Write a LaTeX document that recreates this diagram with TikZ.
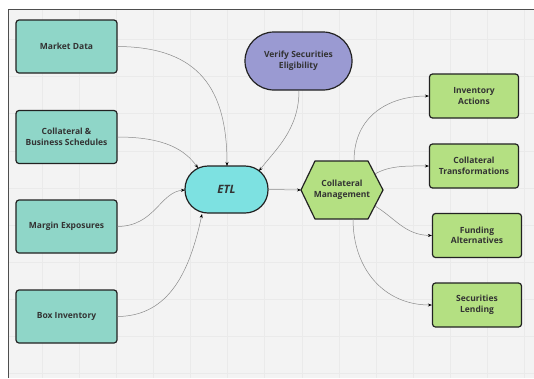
\documentclass[tikz,border=0pt]{standalone}
\usepackage{fontspec}
\setmainfont{Open Sans}
\usetikzlibrary{shapes.geometric,arrows.meta}
\definecolor{bgc}{HTML}{F3F3F3}
\definecolor{gridc}{HTML}{EAEAEA}
\definecolor{tealc}{HTML}{8FD6C8}
\definecolor{greenc}{HTML}{B4E082}
\definecolor{purplec}{HTML}{9A9AD2}
\definecolor{cyanc}{HTML}{7DE1E1}
\definecolor{edgec}{HTML}{222222}
\definecolor{txtc}{HTML}{333333}
\definecolor{linec}{HTML}{8A8A8A}
\tikzset{
  lbl/.style={align=center, font=\bfseries\fontsize{8.5}{10.5}\selectfont, text=txtc},
  box/.style={lbl, draw=edgec, line width=1.2pt, rounded corners=3pt, minimum width=101pt, minimum height=53pt, inner sep=2pt},
  lbox/.style={box, fill=tealc},
  rbox/.style={box, fill=greenc, minimum width=89pt, minimum height=44pt},
  conn/.style={draw=linec, line width=0.5pt, -{Stealth[length=4pt,width=3pt,color=black]}},
}
\begin{document}
\begin{tikzpicture}[x=1pt,y=-1pt]
\useasboundingbox (0,0) rectangle (534,378);
\fill[white] (0,0) rectangle (534,378);
\fill[bgc] (8,9) rectangle (534,378);
\foreach \x in {42,79.1,...,534} \draw[gridc, line width=0.4pt] (\x,9) -- (\x,378);
\foreach \y in {39.4,76.5,...,378} \draw[gridc, line width=0.4pt] (8,\y) -- (534,\y);
\draw[edgec!80, line width=0.8pt] (8,378) -- (8,9) -- (534,9);

\node[lbox] (md) at (66.5,46.5) {Market Data};
\node[lbox] (cb) at (66.5,137) {Collateral \&\\Business Schedules};
\node[lbox] (me) at (66.5,226.5) {Margin Exposures};
\node[lbox] (bi) at (66.5,316.5) {Box Inventory};

\node[lbl, draw=edgec, line width=1.2pt, fill=purplec, rounded corners=29pt, minimum width=107pt, minimum height=58pt] (vs) at (298.5,61) {Verify Securities\\Eligibility};

\node[draw=edgec, line width=1.2pt, fill=cyanc, rounded corners=23pt, minimum width=83pt, minimum height=47pt, font=\bfseries\itshape\fontsize{11.5}{13}\selectfont, text=txtc] (etl) at (226.5,189.5) {ETL};

\draw[edgec, line width=1.2pt, fill=greenc, line join=round] (301,190) -- (315,161) -- (368,161) -- (383,190) -- (368,219) -- (315,219) -- cycle;
\node[lbl] (cm) at (342,190) {Collateral\\Management};
\coordinate (cmL) at (301,190);
\coordinate (cmT) at (354,161);
\coordinate (cmB) at (353,219);
\coordinate (cmUR) at (375,174);
\coordinate (cmLR) at (375,206);

\node[rbox] (ia) at (474,96) {Inventory\\Actions};
\node[rbox] (ct) at (474,166) {Collateral\\Transformations};
\node[rbox] (fa) at (477,235.5) {Funding\\Alternatives};
\node[rbox] (sl) at (477,305) {Securities\\Lending};

\draw[conn] (md.east) .. controls (200,47) and (227,90) .. (227,166);
\draw[conn] (cb.east) .. controls (165,137) and (185,150) .. (198,168);
\draw[conn] (me.east) .. controls (155,226) and (160,192) .. (185,190);
\draw[conn] (bi.east) .. controls (170,316) and (190,270) .. (202,214);
\draw[conn] (vs.south) ++(0.5,0) .. controls (299,130) and (275,150) .. (259,171);
\draw[conn] (etl.east) -- (cmL);
\draw[conn] (cmT) .. controls (354,115) and (390,96) .. (ia.west);
\draw[conn] (cmUR) .. controls (390,165) and (410,166) .. (ct.west);
\draw[conn] (cmLR) .. controls (395,218) and (405,235) .. (fa.west);
\draw[conn] (cmB) .. controls (353,270) and (385,305) .. (sl.west);
\end{tikzpicture}
\end{document}
